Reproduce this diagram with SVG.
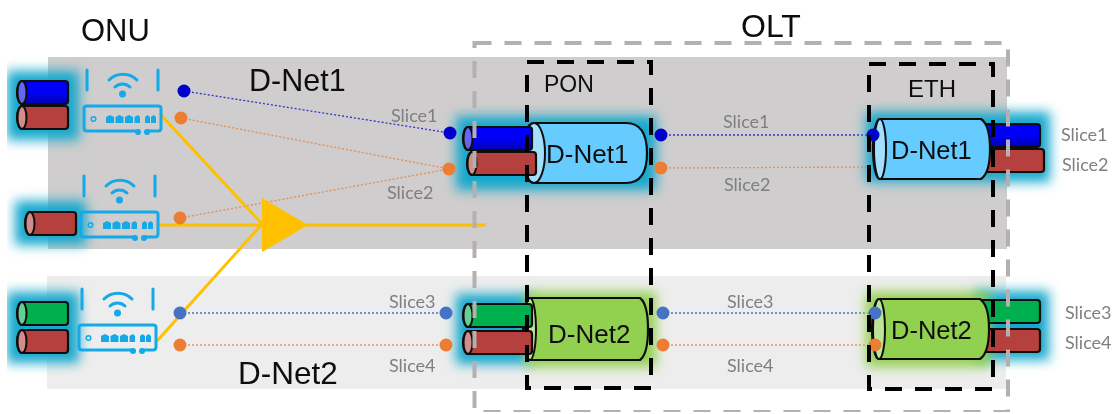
<svg xmlns="http://www.w3.org/2000/svg" width="1112" height="414" viewBox="0 0 1112 414">
<style>
text{font-family:"Liberation Sans",Arial,sans-serif;fill:#111}
.sl{font-family:Lato,"Open Sans",sans-serif;font-size:18px;fill:#7f7f7f}
.o{stroke:#111;stroke-width:2.2;stroke-linejoin:round}
.face{fill:#fff;fill-opacity:.4;stroke:#111;stroke-width:2}
.blue{fill:url(#bl)}.red{fill:#b5403c}.green{fill:#00b050}.lb{fill:#66ccff}.lg{fill:#92d050}
.gb{fill:#14a8cc;filter:url(#glow)}.gg{fill:#92d050;filter:url(#glow)}
.dot{fill:none;stroke-width:1.300;stroke-dasharray:2 2}
.db{stroke:#3333cc}.do{stroke:#ed7d31;stroke-opacity:.8}.dm{stroke:#4472c4}
.y{fill:none;stroke:#ffc000;stroke-width:3}
.ic{fill:none;stroke:#12a9e8;stroke-width:3;stroke-linecap:round}
.if{fill:#12a9e8}
.pb{fill:none;stroke:#000;stroke-width:4;stroke-dasharray:17 13}
.pg{fill:none;stroke:#b5b0b0;stroke-width:4;stroke-dasharray:17 13}
</style>
<defs>
<filter id="glow" x="-50%" y="-50%" width="200%" height="200%"><feGaussianBlur stdDeviation="6"/></filter>
<filter id="soft" x="0" y="0" width="100%" height="100%"><feGaussianBlur stdDeviation="0.450"/></filter>
<linearGradient id="bl" x1="0" y1="0" x2="0" y2="1"><stop offset="0.500" stop-color="#0000f8"/><stop offset="1" stop-color="#0000b0"/></linearGradient>
<g id="c52"><path class="o" d="M5 0H48Q51 0 51 3V20Q51 23 48 23H5A5 11.500 0 0 1 5 0Z"/><ellipse class="face" cx="5" cy="11.500" rx="4.500" ry="11.500"/></g>
<g id="c69"><path class="o" d="M5 0H66Q69 0 69 3V20Q69 23 66 23H5A5 11.500 0 0 1 5 0Z"/><ellipse class="face" cx="5" cy="11.500" rx="4.500" ry="11.500"/></g>
<g id="big"><path class="o" d="M12 0H104Q125 0 125 30Q125 60 104 60H12A12 30 0 0 1 12 0Z"/><ellipse class="face" cx="12" cy="30" rx="11" ry="30"/></g>
<g id="big2"><path class="o" d="M7 0H117Q125 6 125 31Q125 56 117 62H7A7 31 0 0 1 7 0Z"/><ellipse class="face" cx="7" cy="31" rx="6" ry="31"/></g>
<g id="eth"><path class="o" d="M7 0H108Q117 6 117 30Q117 54 108 60H7A7 30 0 0 1 7 0Z"/><ellipse class="face" cx="7" cy="30" rx="6" ry="30"/></g>
<g id="router">
<path class="ic" d="M87 70V90M158 70V90"/>
<path class="ic" stroke-width="3.500" d="M109 80A20 20 0 0 1 137 80M115 87A11 11 0 0 1 130 87"/>
<circle class="if" cx="122.500" cy="94" r="3.500"/>
<path class="ic" d="M138 131H87Q84 131 84 128V108Q84 106 87 106H158Q161 106 161 108V128Q161 131 158 131H147"/>
<circle class="if" cx="138" cy="132" r="3"/><circle class="if" cx="147" cy="132" r="3"/>
<circle cx="93.500" cy="119" r="2.300" fill="none" stroke="#12a9e8" stroke-width="1.500"/>
<path class="if" d="M106 123V117L110 115L114 117V123ZM115.500 123V117L119.500 115L123.500 117V123ZM125 123V117L129 115L133 117V123ZM134.500 123V117L138 115L140 117V123ZM145 123V117L147.500 115L150 117V123ZM151 123V117L153.500 115L156 117V123Z"/>
</g>
</defs>

<g filter="url(#soft)">
<g id="bands">
<rect x="48" y="57" width="959" height="192" fill="#cfcdcd"/>
<rect x="47" y="276" width="959" height="113" fill="#ededed"/>
</g>

<g id="connectors">
<path class="dot db" d="M184 91L450 133M661 135H873"/>
<path class="dot do" d="M181 118L449 169M180 218L449 169M661 168L873 167M180 345H446M663 345H875"/>
<path class="dot dm" d="M180 313H446M663 313H875"/>
<path class="y" d="M161 115L264 226M158 225H486M157 341L264 222"/>
<polygon points="262,198 308,225 262,252" fill="#ffc000"/>
</g>

<g id="onu1">
<rect class="gb" x="7" y="71" width="72" height="69"/>
<use href="#c52" class="blue" x="17" y="81"/><use href="#c52" class="red" x="17" y="106"/>
<use href="#router"/>
</g>
<g id="onu2">
<rect class="gb" x="15" y="201" width="71" height="44"/>
<use href="#c52" class="red" x="25" y="212"/>
<use href="#router" x="-3" y="106"/>
</g>
<g id="onu3">
<rect class="gb" x="7" y="292" width="72" height="71"/>
<use href="#c52" class="green" x="17" y="302"/><use href="#c52" class="red" x="17" y="330"/>
<use href="#router" x="-5" y="219"/>
</g>

<g id="pon-dnet1">
<rect class="gb" x="456" y="116" width="200" height="74"/>
<use href="#big" class="lb" x="522" y="123"/>
<use href="#c69" class="blue" x="463" y="127"/><use href="#c69" class="red" x="467" y="152"/>
<text x="546" y="163" font-size="26">D-Net1</text>
</g>
<g id="eth-dnet1">
<rect class="gb" x="866" y="112" width="184" height="70"/>
<use href="#c69" class="blue" x="971" y="124"/><use href="#c69" class="red" x="975" y="149"/>
<use href="#eth" class="lb" x="873" y="119"/>
<text x="891" y="159" font-size="25.500">D-Net1</text>
</g>
<g id="pon-dnet2">
<rect class="gb" x="456" y="294" width="76" height="70"/>
<rect class="gg" x="526" y="292" width="130" height="75"/>
<use href="#big2" class="lg" x="523" y="298"/>
<use href="#c69" class="green" x="463" y="304"/><use href="#c69" class="red" x="463" y="331"/>
<text x="548" y="343" font-size="26">D-Net2</text>
</g>
<g id="eth-dnet2">
<rect class="gb" x="975" y="291" width="74" height="69"/>
<rect class="gg" x="866" y="292" width="124" height="75"/>
<use href="#c69" class="green" x="971" y="300"/><use href="#c69" class="red" x="971" y="329"/>
<use href="#eth" class="lg" x="872" y="299"/>
<text x="891" y="339" font-size="25.500">D-Net2</text>
</g>

<g id="ports">
<circle cx="184" cy="91" r="6.500" fill="#0000cc"/><circle cx="181" cy="118" r="6.500" fill="#ed7d31"/>
<circle cx="180" cy="218" r="6.500" fill="#ed7d31"/><circle cx="180" cy="313" r="6.500" fill="#4472c4"/>
<circle cx="180" cy="345" r="6.500" fill="#ed7d31"/>
<circle cx="450" cy="133" r="6.500" fill="#0000cc"/><circle cx="449" cy="169" r="6.500" fill="#ed7d31"/>
<circle cx="446" cy="313" r="6.500" fill="#4472c4"/><circle cx="446" cy="345" r="6.500" fill="#ed7d31"/>
<circle cx="661" cy="135" r="6.500" fill="#0000cc"/><circle cx="661" cy="168" r="6.500" fill="#ed7d31"/>
<circle cx="663" cy="313" r="6.500" fill="#4472c4"/><circle cx="663" cy="345" r="6.500" fill="#ed7d31"/>
<circle cx="873" cy="135" r="6.500" fill="#0000cc"/>
<circle cx="875" cy="313" r="6.500" fill="#4472c4"/><circle cx="875" cy="345" r="6.500" fill="#ed7d31"/>
</g>

<g id="boxes">
<rect id="olt" class="pg" x="474.500" y="43" width="533.500" height="369"/>
<rect id="pon" class="pb" x="527" y="62" width="124" height="326"/>
<rect id="eth-box" class="pb" x="869" y="64" width="124" height="325"/>
</g>

<g id="labels">
<text x="81" y="41" font-size="31">ONU</text>
<text x="741" y="37" font-size="32">OLT</text>
<text x="249" y="91" font-size="30.500">D-Net1</text>
<text x="238" y="384" font-size="31.500">D-Net2</text>
<text x="544" y="92" font-size="23">PON</text>
<text x="908" y="97" font-size="24">ETH</text>
<text class="sl" x="391" y="122">Slice1</text>
<text class="sl" x="387" y="199">Slice2</text>
<text class="sl" x="723" y="128">Slice1</text>
<text class="sl" x="724" y="191">Slice2</text>
<text class="sl" x="389" y="308">Slice3</text>
<text class="sl" x="389" y="372">Slice4</text>
<text class="sl" x="727" y="308">Slice3</text>
<text class="sl" x="727" y="372">Slice4</text>
<text class="sl" x="1061" y="141">Slice1</text>
<text class="sl" x="1062" y="171">Slice2</text>
<text class="sl" x="1065" y="319">Slice3</text>
<text class="sl" x="1065" y="349">Slice4</text>
</g>
</g>
</svg>
